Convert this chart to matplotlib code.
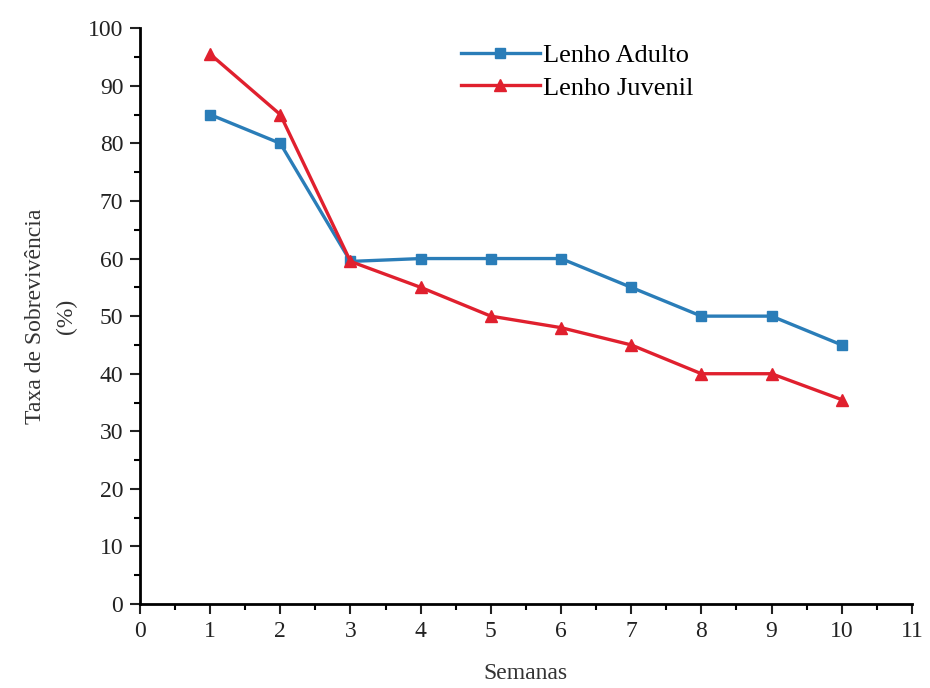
import matplotlib.pyplot as plt
from matplotlib.ticker import MultipleLocator

plt.rcParams['font.family'] = ['Liberation Serif', 'DejaVu Serif']

# data
semanas = [1, 2, 3, 4, 5, 6, 7, 8, 9, 10]
adulto = [85, 80, 59.5, 60, 60, 60, 55, 50, 50, 45]
juvenil = [95.5, 85, 59.5, 55, 50, 48, 45, 40, 40, 35.5]

fig = plt.figure(figsize=(9.3, 6.88), dpi=100)
ax = fig.add_axes([0.1505, 0.122, 0.83, 0.837])

ax.plot(semanas, adulto, color='#2a7db8', lw=2.4, marker='s', ms=7,
        label='Lenho Adulto', zorder=3)
ax.plot(semanas, juvenil, color='#e0202e', lw=2.4, marker='^', ms=8,
        label='Lenho Juvenil', zorder=3)

ax.set_xlim(0, 11)
ax.set_ylim(0, 100)
ax.xaxis.set_major_locator(MultipleLocator(1))
ax.xaxis.set_minor_locator(MultipleLocator(0.5))
ax.yaxis.set_major_locator(MultipleLocator(10))
ax.yaxis.set_minor_locator(MultipleLocator(5))
ax.tick_params(which='major', direction='out', length=7, width=1.5,
               labelsize=17, colors='#222222', pad=5)
ax.tick_params(which='minor', direction='out', length=4, width=1.5)
for s in ['top', 'right']:
    ax.spines[s].set_visible(False)
for s in ['left', 'bottom']:
    ax.spines[s].set_linewidth(2)

ax.set_xlabel('Semanas', fontsize=17, labelpad=15, color='#333333')
ax.set_ylabel('Taxa de Sobrevivência\n(%)', fontsize=17, color='#333333',
              labelpad=8, linespacing=1.6)

ax.legend(loc='upper left', bbox_to_anchor=(0.385, 1.015), frameon=False,
          fontsize=19, handlelength=3.0, handletextpad=0.1,
          labelspacing=0.35)

fig.savefig('out.png', dpi=100)
